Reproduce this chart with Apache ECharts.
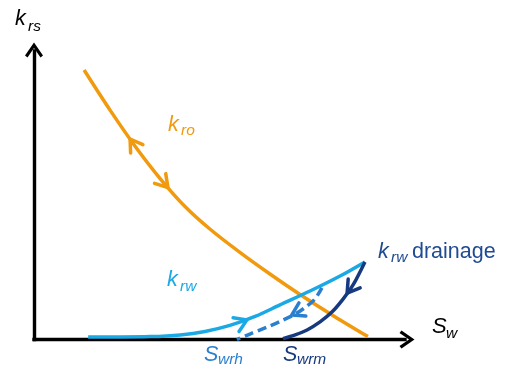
<!DOCTYPE html>
<html>
<head>
<meta charset="utf-8">
<script src="https://cdn.jsdelivr.net/npm/echarts@6/dist/echarts.min.js"></script>
<style>html,body{margin:0;padding:0;background:#fff;}#c{width:514px;height:373px;}</style>
</head>
<body>
<div id="c"></div>
<script>
// Normalised water saturation (x) and relative permeability (y)
var kroSw = [0.135, 0.205, 0.272, 0.340, 0.407, 0.474, 0.555, 0.636, 0.717, 0.811, 0.900];
var kroK  = [0.934, 0.795, 0.671, 0.558, 0.461, 0.383, 0.302, 0.227, 0.156, 0.079, 0.010];

var krwSw = [0.146, 0.232, 0.313, 0.394, 0.461, 0.528, 0.596, 0.663, 0.744, 0.825, 0.892];
var krwK  = [0.009, 0.009, 0.010, 0.016, 0.028, 0.049, 0.080, 0.120, 0.168, 0.220, 0.269];

var drainSw = [0.892, 0.860, 0.833, 0.803, 0.771, 0.736, 0.704, 0.671];
var drainK  = [0.269, 0.189, 0.140, 0.095, 0.061, 0.033, 0.016, 0.003];

var hystSw = [0.776, 0.757, 0.733, 0.704, 0.666, 0.628, 0.582, 0.547];
var hystK  = [0.179, 0.140, 0.113, 0.088, 0.064, 0.043, 0.019, 0.000];

// arrows: [tipSw, tipK, backSw, backK]
var kroArrows   = [[0.259, 0.695, 0.278, 0.659], [0.361, 0.527, 0.340, 0.558]];
var krwArrows   = [[0.574, 0.068, 0.542, 0.050]];
var drainArrows = [[0.844, 0.161, 0.860, 0.189]];
var hystArrows  = [[0.695, 0.085, 0.728, 0.107]];

var C_ORANGE = '#F29A0E', C_LIGHT = '#1BA9E5', C_MID = '#2B7FCF', C_DARK = '#17397F', C_DARKTXT = '#1F4A94';

function zip(a, b) { return a.map(function (v, i) { return [v, b[i]]; }); }

function arrowSeries(data, color) {
  return {
    type: 'custom',
    data: data,
    z: 5,
    renderItem: function (params, api) {
      var tip = api.coord([api.value(0), api.value(1)]);
      var back = api.coord([api.value(2), api.value(3)]);
      var dx = back[0] - tip[0], dy = back[1] - tip[1];
      var L = Math.sqrt(dx * dx + dy * dy);
      dx /= L; dy /= L;
      var len = 14, a = 32 * Math.PI / 180;
      function rot(t) {
        return [tip[0] + len * (dx * Math.cos(t) - dy * Math.sin(t)),
                tip[1] + len * (dx * Math.sin(t) + dy * Math.cos(t))];
      }
      return {
        type: 'polyline',
        shape: { points: [rot(a), tip, rot(-a)] },
        style: { stroke: color, lineWidth: 3.5, fill: null, lineCap: 'round', lineJoin: 'round' }
      };
    }
  };
}

var chevron = 'path://M9 0 L18 13 L15.5 15 L9 5.5 L2.5 15 L0 13 Z';

function label(x, y, txt, fs, color, italic) {
  return {
    type: 'text', x: x, y: y, z: 10,
    style: {
      text: txt, fill: color,
      font: (italic ? 'italic ' : '') + fs + 'px "Liberation Sans", Arial, sans-serif',
      verticalAlign: 'middle', align: 'left'
    }
  };
}
function baseY(b, fs) { return b - 0.36 * fs; }

var chart = echarts.init(document.getElementById('c'), null, { renderer: 'canvas' });
chart.setOption({
  animation: false,
  backgroundColor: '#ffffff',
  grid: { left: 34, right: 109, top: 51, bottom: 33.5 },
  xAxis: {
    type: 'value', min: 0, max: 1,
    axisLine: { show: true, symbol: ['none', chevron], symbolSize: [18, 16], symbolOffset: [0, 2],
      lineStyle: { color: '#000', width: 3.4, cap: 'square' } },
    axisTick: { show: false }, axisLabel: { show: false }, splitLine: { show: false }
  },
  yAxis: {
    type: 'value', min: 0, max: 1,
    axisLine: { show: true, symbol: ['none', chevron], symbolSize: [18, 16], symbolOffset: [0, 1],
      lineStyle: { color: '#000', width: 3.4, cap: 'square' } },
    axisTick: { show: false }, axisLabel: { show: false }, splitLine: { show: false }
  },
  series: [
    { type: 'line', data: zip(kroSw, kroK), smooth: 0.3, showSymbol: false, z: 2,
      lineStyle: { color: C_ORANGE, width: 3.5 } },
    { type: 'line', data: zip(krwSw, krwK), smooth: 0.3, showSymbol: false, z: 3,
      lineStyle: { color: C_LIGHT, width: 3.5 } },
    { type: 'line', data: zip(drainSw, drainK), smooth: 0.3, showSymbol: false, z: 3,
      lineStyle: { color: C_DARK, width: 3.5 } },
    { type: 'line', data: zip(hystSw, hystK), smooth: 0.3, showSymbol: false, z: 3,
      lineStyle: { color: C_MID, width: 3.5, type: [9, 5] } },
    arrowSeries(kroArrows, C_ORANGE),
    arrowSeries(krwArrows, C_LIGHT),
    arrowSeries(drainArrows, C_DARK),
    arrowSeries(hystArrows, C_MID)
  ],
  graphic: [
    label(15, baseY(27, 21.5), 'k', 21.5, '#000', true),
    label(28, baseY(32, 15.5), 'rs', 15.5, '#000', true),
    label(168, baseY(133, 21.5), 'k', 21.5, C_ORANGE, true),
    label(181, baseY(136, 15.5), 'ro', 15.5, C_ORANGE, true),
    label(167, baseY(288, 21.5), 'k', 21.5, C_LIGHT, true),
    label(180, baseY(292, 15.5), 'rw', 15.5, C_LIGHT, true),
    label(378, baseY(260, 21.5), 'k', 21.5, C_DARKTXT, true),
    label(391, baseY(263, 15.5), 'rw', 15.5, C_DARKTXT, true),
    label(412, baseY(260, 21.5), 'drainage', 21.5, C_DARKTXT, false),
    label(204, baseY(363, 21.5), 'S', 21.5, C_MID, true),
    label(218, baseY(365, 15.5), 'wrh', 15.5, C_MID, true),
    label(283, baseY(363, 21.5), 'S', 21.5, C_DARK, true),
    label(297, baseY(365, 15.5), 'wrm', 15.5, C_DARK, true),
    label(432, baseY(335, 22), 'S', 22, '#000', true),
    label(446, baseY(339, 15.5), 'w', 15.5, '#000', true)
  ]
});
</script>
</body>
</html>
